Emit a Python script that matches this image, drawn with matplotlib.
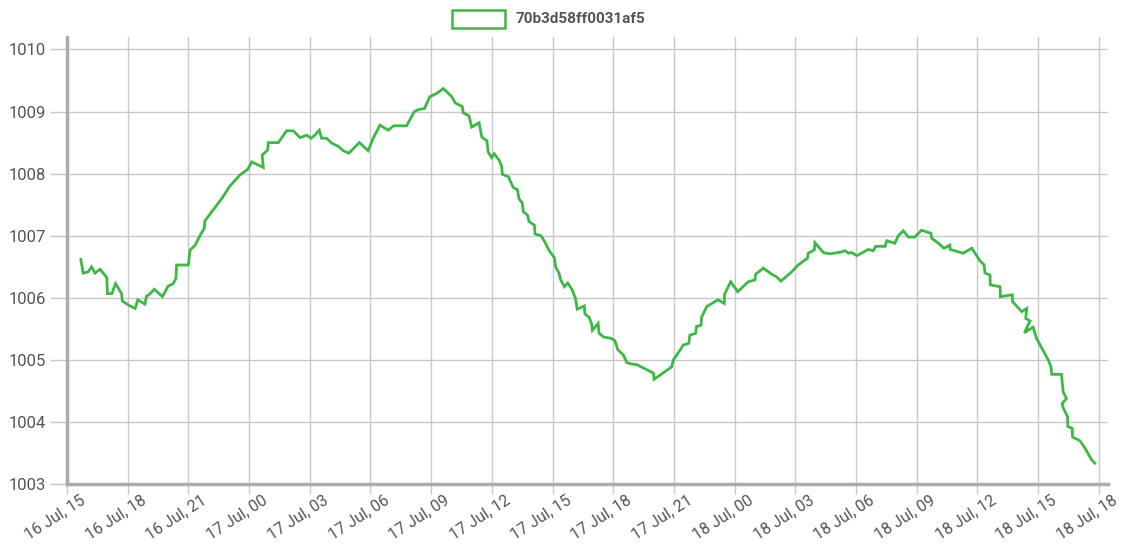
import datetime as dt
import matplotlib
matplotlib.use("Agg")
import matplotlib.pyplot as plt
import matplotlib.dates as mdates
import matplotlib.transforms as mtransforms
from matplotlib.patches import Rectangle

plt.rcParams['font.family'] = ['Roboto', 'DejaVu Sans']

series_name = "70b3d58ff0031af5"
start_time = dt.datetime(2024, 7, 16, 15, 0)

# minutes after 16 Jul 15:00
minutes = [
    41, 48, 63, 73, 83, 98, 118, 120, 133, 144, 162, 164, 187, 202, 210, 231, 236, 243, 259, 283,
    300, 315, 323, 325, 360, 365, 380, 394, 407, 409, 459, 483,
    513, 536, 548, 582, 579, 595, 597, 627, 651, 671, 691, 711, 724, 735, 748, 755, 770, 785,
    805, 819, 836, 867, 893, 908, 928,
    953, 968, 1007, 1030, 1042, 1060, 1076, 1096, 1116, 1141, 1151, 1172, 1175, 1192, 1200, 1222,
    1230, 1245, 1249, 1259, 1267, 1281, 1289, 1291, 1309, 1323, 1336, 1340, 1350, 1353, 1366, 1370,
    1386, 1388, 1406, 1417, 1429, 1445, 1449, 1459, 1464, 1475, 1485, 1498, 1508, 1513, 1534, 1536,
    1548, 1556, 1558, 1575, 1578, 1592, 1613, 1625, 1633, 1650, 1660, 1672, 1692, 1739, 1741, 1793,
    1798, 1818,
    1827, 1844, 1847, 1864, 1867, 1880, 1882, 1897, 1912, 1931, 1949, 1950, 1968, 1989, 2020, 2040,
    2042, 2065, 2090, 2104, 2117, 2149, 2168, 2196, 2198, 2216, 2218, 2243, 2262,
    2297, 2307, 2317, 2327, 2342, 2356, 2376, 2391, 2398, 2426, 2431, 2455, 2465, 2480, 2495, 2514,
    2534, 2562, 2564, 2584, 2601, 2618, 2619, 2658, 2683, 2707,
    2720, 2722, 2737, 2738, 2767, 2768, 2803, 2804, 2831, 2846, 2843, 2856, 2839, 2865, 2875, 2910,
    2918, 2920, 2949, 2954, 2964, 2951, 2955, 2967, 2968, 2981, 2982, 3004, 3019, 3039, 3048,
]

pressure = [
    1006.62, 1006.40, 1006.42, 1006.50, 1006.40, 1006.46, 1006.33, 1006.07, 1006.07, 1006.23,
    1006.07, 1005.95, 1005.87, 1005.83, 1005.97, 1005.90, 1006.03, 1006.05, 1006.14, 1006.02,
    1006.19, 1006.23, 1006.31, 1006.53, 1006.53, 1006.77, 1006.85, 1007.00, 1007.12, 1007.24,
    1007.60, 1007.80,
    1007.98, 1008.07, 1008.19, 1008.10, 1008.30, 1008.38, 1008.50, 1008.50, 1008.69, 1008.69,
    1008.58, 1008.62, 1008.57, 1008.62, 1008.70, 1008.57, 1008.57, 1008.49, 1008.44, 1008.37,
    1008.33, 1008.50, 1008.37, 1008.57, 1008.78,
    1008.70, 1008.77, 1008.77, 1009.00, 1009.03, 1009.05, 1009.24, 1009.29, 1009.37, 1009.24,
    1009.14, 1009.08, 1008.98, 1008.93, 1008.75, 1008.82, 1008.59, 1008.53, 1008.35, 1008.26,
    1008.32, 1008.22, 1008.12, 1007.99, 1007.95, 1007.78, 1007.74, 1007.60, 1007.53, 1007.39,
    1007.33, 1007.23,
    1007.17, 1007.03, 1007.00, 1006.90, 1006.77, 1006.65, 1006.50, 1006.40, 1006.29, 1006.18,
    1006.24, 1006.13, 1005.99, 1005.82, 1005.87, 1005.74, 1005.69, 1005.58, 1005.48, 1005.59,
    1005.43, 1005.37, 1005.35, 1005.31, 1005.17, 1005.08, 1004.96, 1004.94, 1004.92, 1004.79,
    1004.69, 1004.89, 1005.00, 1005.16,
    1005.24, 1005.27, 1005.40, 1005.43, 1005.54, 1005.56, 1005.69, 1005.86, 1005.91, 1005.97,
    1005.91, 1006.06, 1006.26, 1006.10, 1006.26, 1006.29, 1006.38, 1006.48, 1006.38, 1006.34,
    1006.27, 1006.42, 1006.53, 1006.64, 1006.72, 1006.77, 1006.89, 1006.73, 1006.71,
    1006.74, 1006.76, 1006.72, 1006.73, 1006.68, 1006.72, 1006.78, 1006.76, 1006.83, 1006.83,
    1006.92, 1006.88, 1007.00, 1007.08, 1006.98, 1006.98, 1007.09, 1007.04, 1006.96, 1006.88,
    1006.80, 1006.85, 1006.78, 1006.72, 1006.80, 1006.60,
    1006.53, 1006.40, 1006.37, 1006.21, 1006.18, 1006.02, 1006.05, 1005.94, 1005.78, 1005.83,
    1005.67, 1005.63, 1005.44, 1005.53, 1005.35, 1005.00, 1004.89, 1004.77, 1004.77, 1004.49,
    1004.38, 1004.30, 1004.22, 1004.09, 1003.93, 1003.90, 1003.76, 1003.70, 1003.58, 1003.39,
    1003.34,
]

y_ticks = [1003, 1004, 1005, 1006, 1007, 1008, 1009, 1010]

times = [start_time + dt.timedelta(minutes=m) for m in minutes]

line_color = "#3db846"
grid_color = "#c8c8c8"
axis_color = "#ababab"
text_color = "#555555"

fig = plt.figure(figsize=(11.33, 5.48), dpi=100)
ax = fig.add_axes([67 / 1133, (548 - 484.3) / 548, (1108 - 67) / 1133, (484.3 - 37) / 548])

ax.plot(times, pressure, color=line_color, linewidth=2.0, solid_joinstyle='miter')

ax.set_xlim(start_time, start_time + dt.timedelta(minutes=3087))
ax.set_ylim(1003, 1010.2)
ax.set_yticks(y_ticks)
ax.set_yticklabels([str(v) for v in y_ticks])

ax.xaxis.set_major_locator(mdates.HourLocator(byhour=range(0, 24, 3)))
ax.xaxis.set_major_formatter(mdates.DateFormatter('%d %b, %H'))

ax.grid(True, color=grid_color, linewidth=1.0)
ax.set_axisbelow(True)
for side in ['top', 'right']:
    ax.spines[side].set_visible(False)
for side in ['left', 'bottom']:
    ax.spines[side].set_color(axis_color)
    ax.spines[side].set_linewidth(2.5)

ax.tick_params(axis='y', length=12, width=1, color=grid_color, pad=3,
               labelsize=12, labelcolor=text_color)
ax.tick_params(axis='x', length=7, width=1, color=grid_color, pad=1,
               labelsize=11.5, labelcolor=text_color)
offset = mtransforms.ScaledTranslation(13 / 100, 3 / 100, fig.dpi_scale_trans)
for lbl in ax.get_xticklabels():
    lbl.set_rotation(33)
    lbl.set_ha('right')
    lbl.set_rotation_mode('anchor')
    lbl.set_transform(lbl.get_transform() + offset)

# legend
fig.add_artist(Rectangle((452 / 1133, (548 - 28) / 548), 53 / 1133, 18 / 548,
                         transform=fig.transFigure, facecolor='white',
                         edgecolor=line_color, linewidth=1.8))
fig.text(515 / 1133, (548 - 19) / 548, series_name, ha='left', va='center',
         fontsize=11, fontweight='bold', color=text_color)

fig.savefig("out.png", dpi=100)
